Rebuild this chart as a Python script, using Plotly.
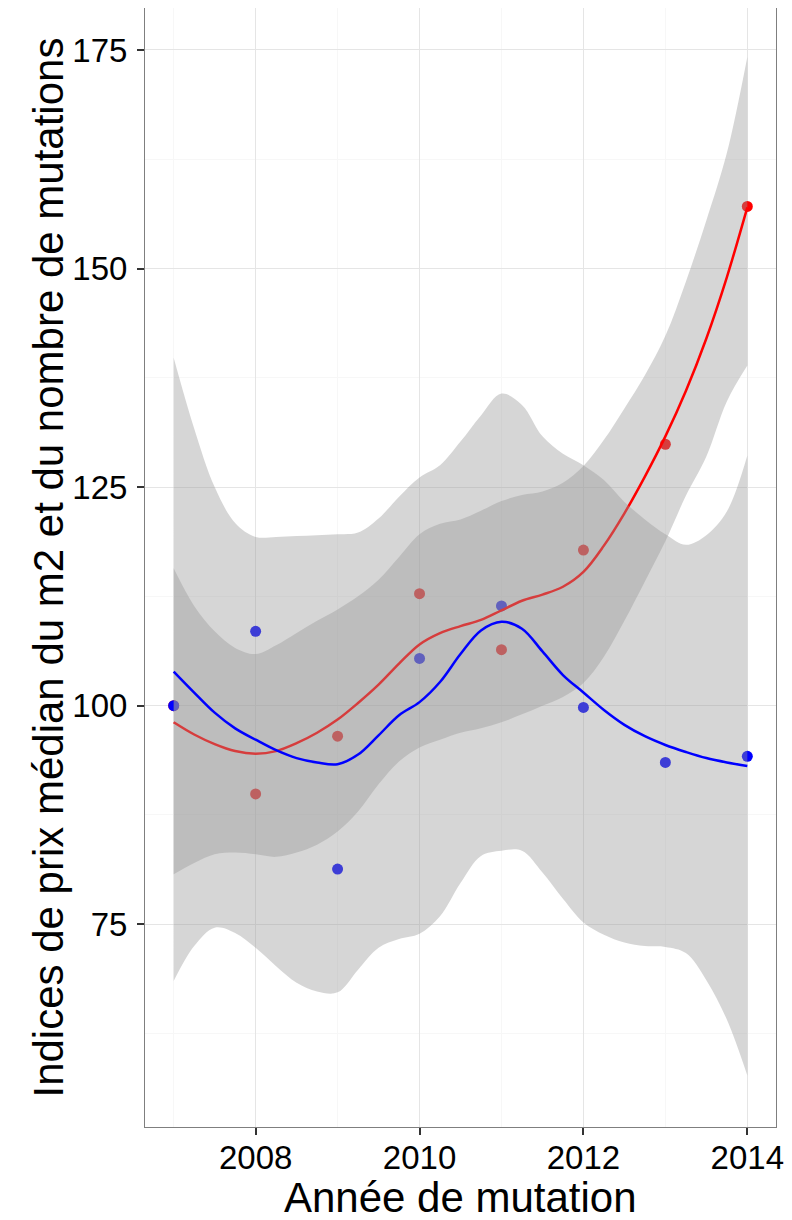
import plotly.graph_objects as go

# Observed yearly indices (base 100 in 2007)
years = [2007, 2008, 2009, 2010, 2011, 2012, 2013, 2014]
prix_m2 = [100, 89.9, 96.5, 112.8, 106.4, 117.8, 129.9, 157.1]
nb_mutations = [100, 108.5, 81.3, 105.4, 111.4, 99.8, 93.5, 94.2]

# Smoothed curves + confidence bands, read every quarter year
x_smooth = [2007, 2007.25, 2007.5, 2007.75, 2008, 2008.25, 2008.5, 2008.75,
            2009, 2009.25, 2009.5, 2009.75, 2010, 2010.25, 2010.5, 2010.75,
            2011, 2011.25, 2011.5, 2011.75, 2012, 2012.25, 2012.5, 2012.75,
            2013, 2013.25, 2013.5, 2013.75, 2014]

prix_fit = [98.1, 96.7, 95.6, 94.8, 94.5, 94.8, 95.7, 96.9,
            98.4, 100.3, 102.4, 104.8, 107.0, 108.3, 109.1, 109.8,
            110.9, 112.0, 112.7, 113.6, 115.3, 118.3, 122.0, 126.2,
            130.8, 136.0, 142.0, 149.0, 157.0]
prix_upper = [115.7, 111.4, 108.5, 106.6, 105.9, 106.9, 108.3, 109.7,
              111.0, 112.5, 114.4, 117.0, 119.6, 120.8, 121.3, 122.3,
              123.4, 124.1, 124.5, 125.5, 127.4, 130.4, 134.0, 137.8,
              142.3, 148.5, 155.5, 163.2, 174.2]
prix_lower = [80.7, 82.0, 83.0, 83.2, 83.0, 82.7, 83.2, 84.1,
              85.6, 87.9, 91.0, 93.6, 95.2, 96.1, 96.9, 97.4,
              98.1, 99.0, 100.0, 101.0, 102.6, 105.6, 109.7, 114.2,
              118.8, 124.0, 128.5, 134.8, 138.9]

mut_fit = [103.9, 101.5, 99.2, 97.4, 96.1, 94.9, 94.0, 93.5,
           93.3, 94.4, 96.6, 98.9, 100.4, 102.7, 105.9, 108.6,
           109.6, 108.8, 106.2, 103.5, 101.5, 99.5, 97.8, 96.5,
           95.5, 94.7, 94.0, 93.5, 93.1]
mut_upper = [139.8, 131.7, 125.0, 120.9, 119.3, 119.3, 119.4, 119.5,
             119.6, 119.8, 121.4, 123.9, 126.1, 127.5, 130.2, 133.2,
             135.7, 134.4, 130.8, 128.8, 127.5, 125.8, 123.3, 121.3,
             119.6, 118.4, 119.5, 122.2, 128.6]
mut_lower = [68.5, 72.5, 74.6, 74.0, 72.3, 70.2, 68.3, 67.3,
             67.2, 69.8, 72.3, 73.3, 73.9, 75.9, 79.7, 82.8,
             83.4, 83.4, 80.9, 77.9, 75.2, 73.8, 72.9, 72.5,
             72.4, 71.7, 68.6, 64.1, 57.7]

band_fill = "rgba(153,153,153,0.4)"
font_family = "Liberation Sans, Arial, sans-serif"

fig = go.Figure()

# points first, ribbons are drawn over them (as in ggplot)
fig.add_trace(go.Scatter(x=years, y=prix_m2, mode="markers",
                         marker=dict(color="#ff0000", size=11)))
fig.add_trace(go.Scatter(x=years, y=nb_mutations, mode="markers",
                         marker=dict(color="#0000ff", size=11)))

# price: ribbon then line
fig.add_trace(go.Scatter(x=x_smooth, y=prix_lower, mode="lines",
                         line=dict(width=0, shape="spline")))
fig.add_trace(go.Scatter(x=x_smooth, y=prix_upper, mode="lines", fill="tonexty",
                         fillcolor=band_fill, line=dict(width=0, shape="spline")))
fig.add_trace(go.Scatter(x=x_smooth, y=prix_fit, mode="lines",
                         line=dict(color="#ff0000", width=2.5, shape="spline")))

# mutations: ribbon then line
fig.add_trace(go.Scatter(x=x_smooth, y=mut_lower, mode="lines",
                         line=dict(width=0, shape="spline")))
fig.add_trace(go.Scatter(x=x_smooth, y=mut_upper, mode="lines", fill="tonexty",
                         fillcolor=band_fill, line=dict(width=0, shape="spline")))
fig.add_trace(go.Scatter(x=x_smooth, y=mut_fit, mode="lines",
                         line=dict(color="#0000ff", width=2.5, shape="spline")))

# page body has an 8px margin, so the figure is 8px smaller than the window
fig.update_layout(
    width=784, height=1212,
    margin=dict(l=137, r=16, t=0, b=93),
    paper_bgcolor="white", plot_bgcolor="white",
    showlegend=False,
    font=dict(family=font_family, color="black"),
)

fig.update_xaxes(
    range=[2006.65, 2014.35], automargin=False,
    tickvals=[2008, 2010, 2012, 2014],
    ticks="outside", ticklen=7, tickwidth=2, tickcolor="#333333",
    tickfont=dict(size=33, color="black"), ticklabelstandoff=-6,
    showgrid=True, gridcolor="#e5e5e5", gridwidth=1,
    minor=dict(tick0=2007, dtick=1, showgrid=True, gridcolor="#f7f7f7"),
    showline=True, mirror=True, linecolor="#7f7f7f", linewidth=1,
    zeroline=False,
)
fig.update_yaxes(
    range=[51.8, 179.8], automargin=False,
    tickvals=[75, 100, 125, 150, 175],
    ticks="outside", ticklen=7, tickwidth=2, tickcolor="#333333",
    tickfont=dict(size=33, color="black"), ticklabelstandoff=3,
    showgrid=True, gridcolor="#e5e5e5", gridwidth=1,
    minor=dict(tick0=62.5, dtick=25, showgrid=True, gridcolor="#f7f7f7"),
    showline=True, mirror=True, linecolor="#7f7f7f", linewidth=1,
    zeroline=False,
)

# axis titles as annotations so they sit where ggplot put them
fig.add_annotation(text="Année de mutation", xref="paper", yref="paper",
                   x=0.5, y=-0.0634, xanchor="center", yanchor="middle",
                   showarrow=False, font=dict(size=42, color="black"))
fig.add_annotation(text="Indices de prix médian du m2 et du nombre de mutations",
                   xref="paper", yref="paper", x=-0.1537, y=0.5,
                   xanchor="center", yanchor="middle", textangle=-90,
                   showarrow=False, font=dict(size=42, color="black"))

fig.write_html("out.html")
